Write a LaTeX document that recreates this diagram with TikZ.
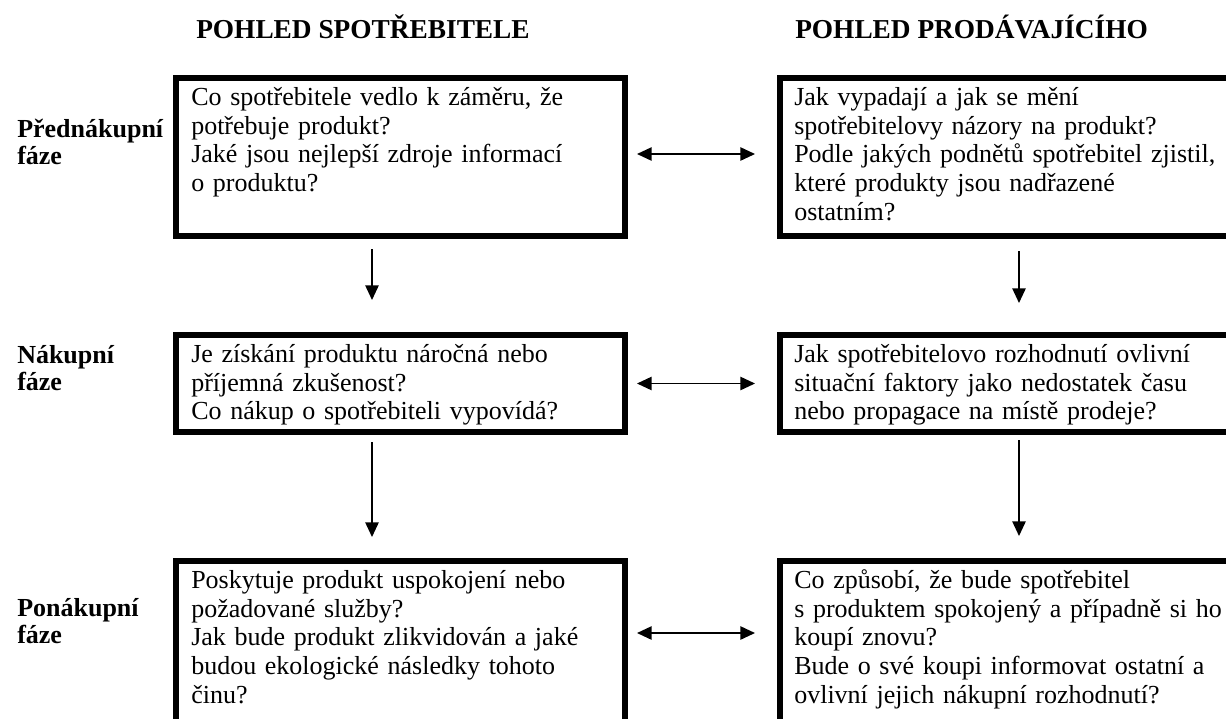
\documentclass[tikz,border=0pt]{standalone}
\usepackage{fontspec}
\setmainfont{Liberation Serif}
\usetikzlibrary{arrows.meta,calc}
\begin{document}
\begin{tikzpicture}[x=0.75pt,y=-0.75pt,
 box/.style={draw,line width=4.5pt,outer sep=0pt,inner sep=0pt,anchor=north west},
 txt/.style={anchor=north west,inner sep=0pt,align=left,text width=345pt,font=\fontsize{19.5}{21.5}\selectfont},
 lbl/.style={anchor=north west,inner sep=0pt,align=left,text width=120pt,font=\bfseries\fontsize{19.5}{20.25}\selectfont},
 ttl/.style={anchor=base west,inner sep=0pt,font=\bfseries\fontsize{20.5}{24}\selectfont},
 arr/.style={line width=1.2pt,-{Triangle[length=11pt,width=10pt]}},
 darr/.style={line width=1.2pt,{Triangle[length=11pt,width=10pt]}-{Triangle[length=11pt,width=10pt]}}]
\useasboundingbox (0,0) rectangle (1226,718);
\clip (0,0) rectangle (1226,718);
% titles
\node[ttl] (t1) at (196,38) {POHLED SPOTŘEBITELE};
\node[ttl] (t2) at (795,38) {POHLED PRODÁVAJÍCÍHO};
% row labels
\node[lbl] (r1) at (17,118) {\strut Přednákupní\\fáze};
\node[lbl] (r2) at (17,344) {\strut Nákupní\\fáze};
\node[lbl] (r3) at (17,597) {\strut Ponákupní\\fáze};
% boxes
\node[box,minimum width=336.75pt,minimum height=118.5pt] (lb1) at (176,78) {};
\node[box,minimum width=345pt,minimum height=118.5pt] (rb1) at (780,78) {};
\node[box,minimum width=336.75pt,minimum height=72.75pt] (lb2) at (176,335) {};
\node[box,minimum width=345pt,minimum height=72.75pt] (rb2) at (780,335) {};
\node[box,minimum width=336.75pt,minimum height=130.5pt] (lb3) at (176,561) {};
\node[box,minimum width=345pt,minimum height=130.5pt] (rb3) at (780,561) {};
% texts
\node[txt] (lt1) at (191,85) {\strut Co spotřebitele vedlo k záměru, že\\potřebuje produkt?\\Jaké jsou nejlepší zdroje informací\\o produktu?};
\node[txt] (rt1) at (794,85) {\strut Jak vypadají a jak se mění\\spotřebitelovy názory na produkt?\\Podle jakých podnětů spotřebitel zjistil,\\které produkty jsou nadřazené\\ostatním?};
\node[txt] (lt2) at (191,342) {\strut Je získání produktu náročná nebo\\příjemná zkušenost?\\Co nákup o spotřebiteli vypovídá?};
\node[txt] (rt2) at (794,342) {\strut Jak spotřebitelovo rozhodnutí ovlivní\\situační faktory jako nedostatek času\\nebo propagace na místě prodeje?};
\node[txt] (lt3) at (191,568) {\strut Poskytuje produkt uspokojení nebo\\požadované služby?\\Jak bude produkt zlikvidován a jaké\\budou ekologické následky tohoto\\činu?};
\node[txt] (rt3) at (794,568) {\strut Co způsobí, že bude spotřebitel\\s produktem spokojený a případně si ho\\koupí znovu?\\Bude o své koupi informovat ostatní a\\ovlivní jejich nákupní rozhodnutí?};
% horizontal arrows
\draw[darr] ($(lb1.east)+(12,-3)$) -- ($(lb1.east -| rb1.west)+(-25,-3)$);
\draw[darr] ($(lb2.east)+(12,0)$) -- ($(lb2.east -| rb2.west)+(-25,0)$);
\draw[darr] ($(lb3.west |- rb3.west)+(461,-15)$) -- ($(rb3.west)+(-25,-15)$);
% vertical arrows
\draw[arr] ($(lb1.south west)+(196,13)$) -- ($(lb2.north west)+(196,-35)$);
\draw[arr] ($(rb1.south west)+(239,15)$) -- ($(rb2.north west)+(239,-32)$);
\draw[arr] ($(lb2.south west)+(196,10)$) -- ($(lb3.north west)+(196,-24)$);
\draw[arr] ($(rb2.south west)+(239,8)$) -- ($(rb3.north west)+(239,-25)$);
\end{tikzpicture}
\end{document}
